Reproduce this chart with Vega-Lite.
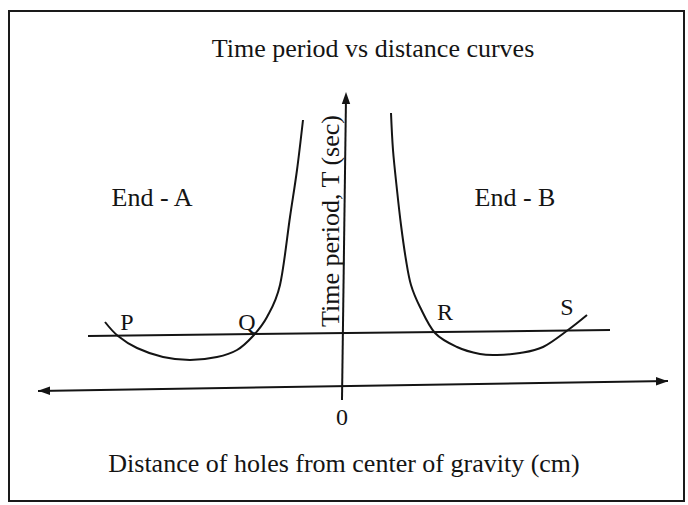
{
  "$schema": "https://vega.github.io/schema/vega-lite/v6.json",
  "width": 688,
  "height": 505,
  "padding": 0,
  "autosize": {"type": "none"},
  "background": "white",
  "config": {"view": {"stroke": null}, "text": {"font": "Liberation Serif", "color": "#141414"}},
  "datasets": {
    "frame": [{"x0": -33.3, "x1": 34.2, "y0": -11.8, "y1": 37.2}],
    "segments": [
      {"name": "distance axis", "xa": -30.4, "ya": -0.8, "xb": 32.6, "yb": 0.2},
      {"name": "time axis", "xa": 0.0, "ya": -1.7, "xb": 0.4, "yb": 28.6},
      {"name": "equal period line", "xa": -25.4, "ya": 4.7, "xb": 26.8, "yb": 5.3}
    ],
    "arrows": [
      {"dir": "left", "x": -29.8, "y": -0.77},
      {"dir": "right", "x": 32.0, "y": 0.17},
      {"dir": "up", "x": 0.4, "y": 28.5}
    ],
    "curves": [
      {"end": "A", "i": 0, "d": -23.7, "T": 6.1},
      {"end": "A", "i": 1, "d": -22.4, "T": 4.7},
      {"end": "A", "i": 2, "d": -20.5, "T": 3.5},
      {"end": "A", "i": 3, "d": -17.9, "T": 2.6},
      {"end": "A", "i": 4, "d": -15.2, "T": 2.3},
      {"end": "A", "i": 5, "d": -12.5, "T": 2.6},
      {"end": "A", "i": 6, "d": -10.5, "T": 3.3},
      {"end": "A", "i": 7, "d": -8.9, "T": 4.7},
      {"end": "A", "i": 8, "d": -7.5, "T": 6.6},
      {"end": "A", "i": 9, "d": -6.2, "T": 9.8},
      {"end": "A", "i": 10, "d": -5.2, "T": 16.6},
      {"end": "A", "i": 11, "d": -4.5, "T": 21.3},
      {"end": "A", "i": 12, "d": -3.9, "T": 26.3},
      {"end": "B", "i": 0, "d": 4.9, "T": 27.0},
      {"end": "B", "i": 1, "d": 5.1, "T": 23.3},
      {"end": "B", "i": 2, "d": 5.5, "T": 19.3},
      {"end": "B", "i": 3, "d": 5.9, "T": 15.8},
      {"end": "B", "i": 4, "d": 6.4, "T": 12.3},
      {"end": "B", "i": 5, "d": 6.9, "T": 9.8},
      {"end": "B", "i": 6, "d": 7.8, "T": 7.6},
      {"end": "B", "i": 7, "d": 9.3, "T": 5.0},
      {"end": "B", "i": 8, "d": 11.5, "T": 3.6},
      {"end": "B", "i": 9, "d": 13.8, "T": 2.9},
      {"end": "B", "i": 10, "d": 15.5, "T": 2.8},
      {"end": "B", "i": 11, "d": 17.8, "T": 3.0},
      {"end": "B", "i": 12, "d": 20.1, "T": 3.6},
      {"end": "B", "i": 13, "d": 22.6, "T": 5.3},
      {"end": "B", "i": 14, "d": 24.5, "T": 6.8}
    ],
    "headings": [
      {"text": "Time period vs distance curves", "x": 3.1, "y": 32.6},
      {"text": "End - A", "x": -19.0, "y": 17.7},
      {"text": "End - B", "x": 17.3, "y": 17.7},
      {"text": "Distance of holes from center of gravity (cm)", "x": 0.2, "y": -8.9}
    ],
    "points": [
      {"text": "P", "x": -21.5, "y": 5.3},
      {"text": "Q", "x": -9.5, "y": 5.3},
      {"text": "R", "x": 10.3, "y": 6.3},
      {"text": "S", "x": 22.5, "y": 6.8},
      {"text": "0", "x": 0.0, "y": -4.2}
    ],
    "vertical": [
      {"text": "Time period, T (sec)", "x": -0.3, "y": 16.2}
    ]
  },
  "layer": [
    {
      "data": {"name": "frame"},
      "mark": {"type": "rect", "filled": false, "stroke": "#1a1a1a", "strokeWidth": 2},
      "encoding": {
        "x": {"field": "x0", "type": "quantitative", "scale": {"domain": [-34.2, 34.6]}, "axis": null},
        "x2": {"field": "x1"},
        "y": {"field": "y0", "type": "quantitative", "scale": {"domain": [-12.2, 38.3]}, "axis": null},
        "y2": {"field": "y1"}
      }
    },
    {
      "data": {"name": "segments"},
      "mark": {"type": "rule", "color": "#141414", "strokeWidth": 2},
      "encoding": {
        "x": {"field": "xa", "type": "quantitative", "scale": {"domain": [-34.2, 34.6]}, "axis": null},
        "x2": {"field": "xb"},
        "y": {"field": "ya", "type": "quantitative", "scale": {"domain": [-12.2, 38.3]}, "axis": null},
        "y2": {"field": "yb"}
      }
    },
    {
      "data": {"name": "arrows"},
      "mark": {"type": "point", "filled": true, "color": "#141414", "size": 144, "opacity": 1},
      "encoding": {
        "x": {"field": "x", "type": "quantitative", "scale": {"domain": [-34.2, 34.6]}, "axis": null},
        "y": {"field": "y", "type": "quantitative", "scale": {"domain": [-12.2, 38.3]}, "axis": null},
        "shape": {
          "field": "dir",
          "type": "nominal",
          "scale": {
            "domain": ["left", "right", "up"],
            "range": ["M-1,0L1,-0.7L1,0.7Z", "M1,0L-1,-0.7L-1,0.7Z", "M0,-1L-0.7,1L0.7,1Z"]
          },
          "legend": null
        }
      }
    },
    {
      "data": {"name": "curves"},
      "mark": {"type": "line", "interpolate": "cardinal", "color": "#141414", "strokeWidth": 2},
      "encoding": {
        "x": {"field": "d", "type": "quantitative", "scale": {"domain": [-34.2, 34.6]}, "axis": null},
        "y": {"field": "T", "type": "quantitative", "scale": {"domain": [-12.2, 38.3]}, "axis": null},
        "detail": {"field": "end", "type": "nominal"},
        "order": {"field": "i", "type": "quantitative"}
      }
    },
    {
      "data": {"name": "headings"},
      "mark": {"type": "text", "fontSize": 26, "align": "center", "baseline": "alphabetic"},
      "encoding": {
        "x": {"field": "x", "type": "quantitative", "scale": {"domain": [-34.2, 34.6]}, "axis": null},
        "y": {"field": "y", "type": "quantitative", "scale": {"domain": [-12.2, 38.3]}, "axis": null},
        "text": {"field": "text"}
      }
    },
    {
      "data": {"name": "points"},
      "mark": {"type": "text", "fontSize": 24, "align": "center", "baseline": "alphabetic"},
      "encoding": {
        "x": {"field": "x", "type": "quantitative", "scale": {"domain": [-34.2, 34.6]}, "axis": null},
        "y": {"field": "y", "type": "quantitative", "scale": {"domain": [-12.2, 38.3]}, "axis": null},
        "text": {"field": "text"}
      }
    },
    {
      "data": {"name": "vertical"},
      "mark": {"type": "text", "fontSize": 26, "align": "center", "baseline": "alphabetic", "angle": 270},
      "encoding": {
        "x": {"field": "x", "type": "quantitative", "scale": {"domain": [-34.2, 34.6]}, "axis": null},
        "y": {"field": "y", "type": "quantitative", "scale": {"domain": [-12.2, 38.3]}, "axis": null},
        "text": {"field": "text"}
      }
    }
  ]
}
